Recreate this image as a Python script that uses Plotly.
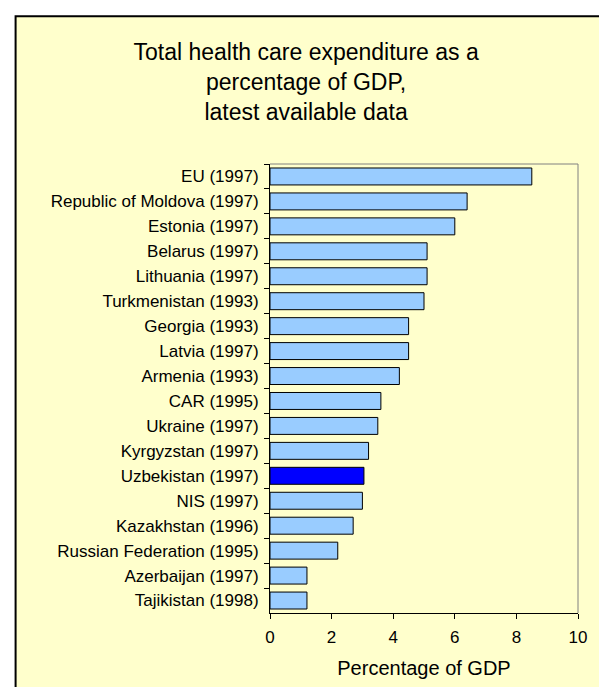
import plotly.graph_objects as go

countries = [
    "EU (1997)", "Republic of Moldova (1997)", "Estonia (1997)", "Belarus (1997)",
    "Lithuania (1997)", "Turkmenistan (1993)", "Georgia (1993)", "Latvia (1997)",
    "Armenia (1993)", "CAR (1995)", "Ukraine (1997)", "Kyrgyzstan (1997)",
    "Uzbekistan (1997)", "NIS (1997)", "Kazakhstan (1996)", "Russian Federation (1995)",
    "Azerbaijan (1997)", "Tajikistan (1998)",
]
pct_gdp = [8.5, 6.4, 6.0, 5.1, 5.1, 5.0, 4.5, 4.5, 4.2, 3.6, 3.5, 3.2, 3.05, 3.0, 2.7, 2.2, 1.2, 1.2]
highlight = "Uzbekistan (1997)"

bar_colors = ["#0000FF" if c == highlight else "#99CCFF" for c in countries]

fig = go.Figure()

# horizontal bars, first country at the top
fig.add_trace(go.Bar(
    x=pct_gdp, y=countries, orientation="h",
    marker=dict(color=bar_colors, line=dict(color="black", width=1)),
    width=0.68,
))

fig.update_layout(
    width=599, height=687,
    margin=dict(l=270, r=18, t=164, b=73),
    paper_bgcolor="white",
    plot_bgcolor="#FFFFCC",
    showlegend=False,
    font=dict(family="Liberation Sans, Arial", size=17, color="black"),
    title=dict(
        text="Total health care expenditure as a<br>percentage of GDP,<br>latest available data",
        x=0.511, xref="container", xanchor="center",
        y=1 - 60 / 687, yref="container", yanchor="top",
        font=dict(size=23, color="black"),
    ),
    xaxis=dict(
        range=[0, 10], dtick=2, showgrid=False, zeroline=False,
        showline=True, linecolor="black", linewidth=1,
        ticks="outside", ticklen=5, tickcolor="black",
        title=dict(text="Percentage of GDP", standoff=14),
        ticklabelstandoff=4,
    ),
    yaxis=dict(
        autorange="reversed", showgrid=False, zeroline=False,
        showline=True, linecolor="black", linewidth=1,
        ticks="outside", ticklen=5, tickcolor="black", tickson="boundaries",
        ticklabelstandoff=7,
    ),
    shapes=[
        # yellow chart area with black border (top and left visible)
        dict(type="rect", xref="paper", yref="paper",
             x0=-0.826, x1=1.2, y0=-0.3, y1=1.329,
             fillcolor="#FFFFCC", line=dict(color="black", width=2), layer="below"),
        # grey frame on top and right of the plot area
        dict(type="line", xref="x domain", yref="y domain", x0=0, x1=1, y0=1, y1=1,
             line=dict(color="#808080", width=1)),
        dict(type="line", xref="x domain", yref="y domain", x0=1, x1=1, y0=0, y1=1,
             line=dict(color="#808080", width=1)),
    ],
)

fig.write_html("out.html", config={"displayModeBar": False},
               post_script="document.body.style.margin = '0';")
